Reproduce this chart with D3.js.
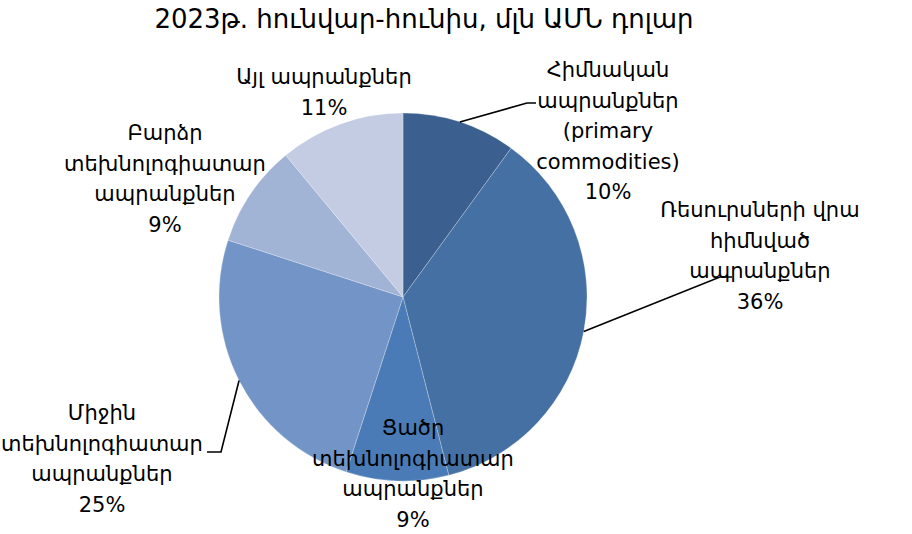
<!DOCTYPE html>
<html>
<head>
<meta charset="utf-8">
<script src="https://cdn.jsdelivr.net/npm/d3@7"></script>
<style>
  body { margin: 0; background: #fff; }
  text { font-family: "DejaVu Sans", sans-serif; fill: #000; }
</style>
</head>
<body>
<div id="chart"></div>
<script>
const title = "2023թ. հունվար-հունիս, մլն ԱՄՆ դոլար"

const categories = [
    ["Հիմնական", "ապրանքներ", "(primary", "commodities)"],
    ["Ռեսուրսների վրա", "հիմնված", "ապրանքներ"],
    ["Ցածր", "տեխնոլոգիատար", "ապրանքներ"],
    ["Միջին", "տեխնոլոգիատար", "ապրանքներ"],
    ["Բարձր", "տեխնոլոգիատար", "ապրանքներ"],
    ["Այլ ապրանքներ"]
]
const shares = [10, 36, 9, 25, 9, 11]
const colors = ["#3b5f8e", "#4470a3", "#4a7bb6", "#7394c6", "#a2b4d6", "#c3cce3"]

// label anchor (x, y of first line) and leader line for each slice
const labelPos = [
    { x: 608, y: 77, line: [[527, 103], [536, 103]] },
    { x: 760, y: 217, line: [[720, 277], [732, 277]] },
    { x: 413, y: 435, line: null },
    { x: 102, y: 420, line: [[221, 452], [207, 452]] },
    { x: 165, y: 140, line: null },
    { x: 324, y: 84, line: null }
]

const width = 912, height = 534
const cx = 403, cy = 297, r = 184
const lineH = 30.5

const svg = d3.select("#chart")
    .append("svg")
    .attr("width", width)
    .attr("height", height)

svg.append("text")
    .attr("x", 424)
    .attr("y", 28)
    .attr("text-anchor", "middle")
    .attr("font-size", 26)
    .text(title)

const pie = d3.pie().sort(null).value(d => d)
const arcs = pie(shares)
const arc = d3.arc().innerRadius(0).outerRadius(r)

const g = svg.append("g").attr("transform", `translate(${cx},${cy})`)

g.selectAll("path")
    .data(arcs)
    .join("path")
    .attr("d", arc)
    .attr("fill", (d, i) => colors[i])
    .attr("stroke", "#ffffff")
    .attr("stroke-opacity", 0.35)
    .attr("stroke-width", 0.7)

// leader lines from arc midpoints
arcs.forEach((d, i) => {
    const p = labelPos[i]
    if (!p.line) return
    const a = (d.startAngle + d.endAngle) / 2
    const start = [cx + r * Math.sin(a), cy - r * Math.cos(a)]
    svg.append("polyline")
        .attr("points", [start, ...p.line].map(q => q.join(",")).join(" "))
        .attr("fill", "none")
        .attr("stroke", "#000")
        .attr("stroke-width", 1.6)
})

// labels
categories.forEach((lines, i) => {
    const p = labelPos[i]
    const t = svg.append("text")
        .attr("text-anchor", "middle")
        .attr("font-size", 21)
    lines.concat([shares[i] + "%"]).forEach((s, k) => {
        t.append("tspan")
            .attr("x", p.x)
            .attr("y", p.y + k * lineH)
            .text(s)
    })
})
</script>
</body>
</html>
